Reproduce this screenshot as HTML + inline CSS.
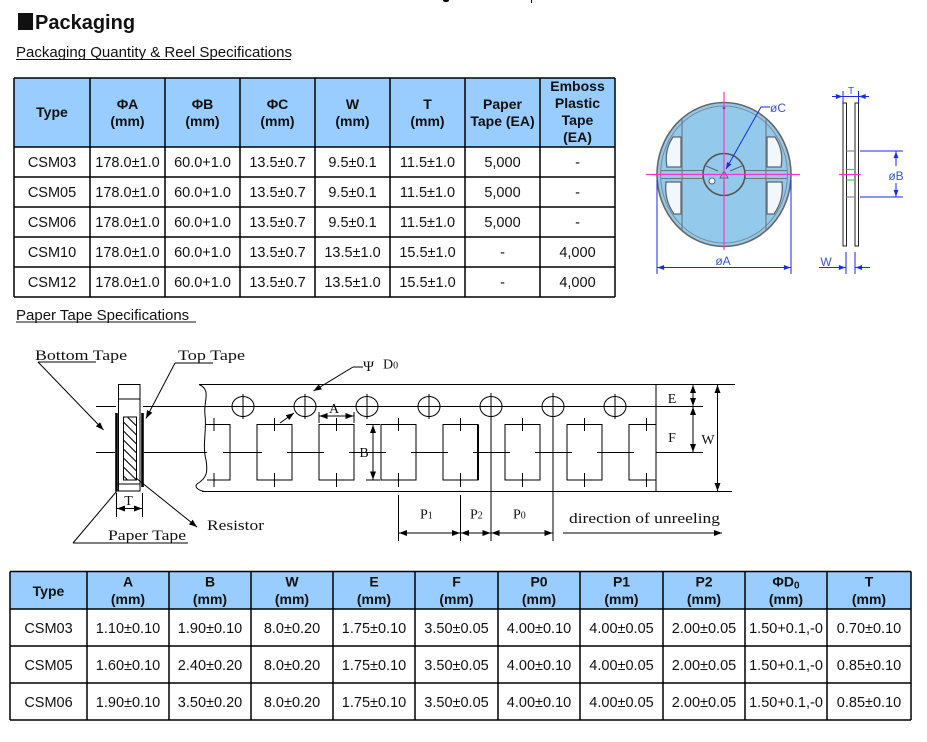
<!DOCTYPE html>
<html>
<head>
<meta charset="utf-8">
<style>
  html,body{margin:0;padding:0;background:#fff;}
  svg{display:block;}
  .s{font-family:"Liberation Sans",Arial,sans-serif;}
  .r{font-family:"Liberation Serif","Times New Roman",serif;}
</style>
</head>
<body>
<svg width="927" height="742" viewBox="0 0 927 742" xmlns="http://www.w3.org/2000/svg">
<defs>
  <marker id="a" viewBox="0 0 8 6" refX="8" refY="3" markerWidth="8" markerHeight="6" markerUnits="userSpaceOnUse" orient="auto-start-reverse">
    <path d="M0,0L8,3L0,6z" fill="#000"/>
  </marker>
  <marker id="b" viewBox="0 0 8 6" refX="8" refY="3" markerWidth="7" markerHeight="5" markerUnits="userSpaceOnUse" orient="auto-start-reverse">
    <path d="M0,0L8,3L0,6z" fill="#1a2ae6"/>
  </marker>
  <clipPath id="rc"><rect x="123.5" y="417" width="13" height="63"/></clipPath>
</defs>

<!-- top cut-off fragments -->
<ellipse cx="446" cy="0.5" rx="3" ry="1.6" fill="#000"/>
<line x1="531.5" y1="0" x2="531.5" y2="3" stroke="#000" stroke-width="1"/>

<!-- Title -->
<rect x="18" y="13" width="15" height="17" fill="#111"/>
<text class="s" x="35" y="29" font-size="20" font-weight="bold" fill="#111">Packaging</text>
<text class="s" x="16" y="57" font-size="15" fill="#111">Packaging Quantity &amp; Reel Specifications</text>
<line x1="16" y1="59.5" x2="291" y2="59.5" stroke="#111" stroke-width="1"/>

<!-- TABLE 1 -->
<rect x="14" y="78" width="601" height="69" fill="#99ccff"/>
<g stroke="#000" stroke-width="1.5">
  <line x1="14" y1="78" x2="615" y2="78"/>
  <line x1="14" y1="147" x2="615" y2="147"/>
  <line x1="14" y1="177" x2="615" y2="177"/>
  <line x1="14" y1="207" x2="615" y2="207"/>
  <line x1="14" y1="237" x2="615" y2="237"/>
  <line x1="14" y1="267" x2="615" y2="267"/>
  <line x1="14" y1="297" x2="615" y2="297"/>
  <line x1="14" y1="78" x2="14" y2="297"/>
  <line x1="90" y1="78" x2="90" y2="297"/>
  <line x1="165" y1="78" x2="165" y2="297"/>
  <line x1="240" y1="78" x2="240" y2="297"/>
  <line x1="315" y1="78" x2="315" y2="297"/>
  <line x1="390" y1="78" x2="390" y2="297"/>
  <line x1="465" y1="78" x2="465" y2="297"/>
  <line x1="540" y1="78" x2="540" y2="297"/>
  <line x1="615" y1="78" x2="615" y2="297"/>
</g>
<g class="s" font-size="14" font-weight="bold" fill="#111" text-anchor="middle">
  <text x="52" y="117">Type</text>
  <text x="127.5" y="109">ΦA</text><text x="127.5" y="126">(mm)</text>
  <text x="202.5" y="109">ΦB</text><text x="202.5" y="126">(mm)</text>
  <text x="277.5" y="109">ΦC</text><text x="277.5" y="126">(mm)</text>
  <text x="352.5" y="109">W</text><text x="352.5" y="126">(mm)</text>
  <text x="427.5" y="109">T</text><text x="427.5" y="126">(mm)</text>
  <text x="502.5" y="109">Paper</text><text x="502.5" y="126">Tape (EA)</text>
  <text x="577.5" y="91">Emboss</text><text x="577.5" y="108">Plastic</text>
  <text x="577.5" y="125">Tape</text><text x="577.5" y="142">(EA)</text>
</g>
<g class="s" font-size="14.5" fill="#111" text-anchor="middle">
  <text x="52" y="167">CSM03</text><text x="127.5" y="167">178.0±1.0</text><text x="202.5" y="167">60.0+1.0</text><text x="277.5" y="167">13.5±0.7</text><text x="352.5" y="167">9.5±0.1</text><text x="427.5" y="167">11.5±1.0</text><text x="502.5" y="167">5,000</text><text x="577.5" y="167">-</text>
  <text x="52" y="197">CSM05</text><text x="127.5" y="197">178.0±1.0</text><text x="202.5" y="197">60.0+1.0</text><text x="277.5" y="197">13.5±0.7</text><text x="352.5" y="197">9.5±0.1</text><text x="427.5" y="197">11.5±1.0</text><text x="502.5" y="197">5,000</text><text x="577.5" y="197">-</text>
  <text x="52" y="227">CSM06</text><text x="127.5" y="227">178.0±1.0</text><text x="202.5" y="227">60.0+1.0</text><text x="277.5" y="227">13.5±0.7</text><text x="352.5" y="227">9.5±0.1</text><text x="427.5" y="227">11.5±1.0</text><text x="502.5" y="227">5,000</text><text x="577.5" y="227">-</text>
  <text x="52" y="257">CSM10</text><text x="127.5" y="257">178.0±1.0</text><text x="202.5" y="257">60.0+1.0</text><text x="277.5" y="257">13.5±0.7</text><text x="352.5" y="257">13.5±1.0</text><text x="427.5" y="257">15.5±1.0</text><text x="502.5" y="257">-</text><text x="577.5" y="257">4,000</text>
  <text x="52" y="287">CSM12</text><text x="127.5" y="287">178.0±1.0</text><text x="202.5" y="287">60.0+1.0</text><text x="277.5" y="287">13.5±0.7</text><text x="352.5" y="287">13.5±1.0</text><text x="427.5" y="287">15.5±1.0</text><text x="502.5" y="287">-</text><text x="577.5" y="287">4,000</text>
</g>

<!-- Paper Tape Specifications heading -->
<text class="s" x="16" y="320" font-size="15" fill="#111">Paper Tape Specifications</text>
<line x1="16" y1="322" x2="196" y2="322" stroke="#111" stroke-width="1"/>

<!-- REEL FRONT VIEW -->
<g>
  <ellipse cx="724" cy="174.5" rx="67" ry="72" fill="#93c9ea" stroke="#666" stroke-width="1.6"/>
  <ellipse cx="724" cy="174.5" rx="63.5" ry="68.5" fill="none" stroke="#7a8a96" stroke-width="1"/>
  <g stroke="#6b7780" stroke-width="1.1" fill="none">
    <path d="M682,119 L682,231"/>
    <path d="M766,119 L766,231"/>
    <path d="M661,170.5 L787,170.5"/>
    <path d="M661,178.5 L787,178.5"/>
  </g>
  <g fill="#f2f7fb" stroke="#5c6670" stroke-width="1.3">
    <path d="M681,137 L681,167 L667,167 Q664,150 673,137 Z"/>
    <path d="M681,182 L681,214 L674,214 Q664,200 666,182 Z"/>
    <path d="M767,137 L767,167 L781,167 Q784,150 775,137 Z"/>
    <path d="M767,182 L767,214 L774,214 Q784,200 782,182 Z"/>
  </g>
  <circle cx="724" cy="174.5" r="21" fill="#93c9ea" stroke="#555" stroke-width="1.6"/>
  <g stroke="#5c6670" stroke-width="1.2">
    <line x1="718" y1="171" x2="706" y2="166"/>
    <line x1="730" y1="171" x2="742" y2="166"/>
    <line x1="724" y1="181" x2="724" y2="195"/>
  </g>
  <circle cx="712" cy="181" r="3" fill="#f2f7fb" stroke="#5c6670" stroke-width="1"/>
  <path d="M720,178 L728,178 L724,171 Z" fill="none" stroke="#5c6670" stroke-width="1"/>
  <circle cx="724" cy="108" r="1.3" fill="#333"/>
  <!-- magenta crosshair -->
  <line x1="646" y1="174.5" x2="800" y2="174.5" stroke="#ff33cc" stroke-width="1.2"/>
  <line x1="724" y1="92" x2="724" y2="250" stroke="#ff33cc" stroke-width="1.2"/>
  <!-- phi C leader -->
  <path d="M770,107 L761,107 L726,169" stroke="#1a2ae6" stroke-width="1" fill="none" marker-end="url(#b)"/>
  <text class="s" x="770" y="112" font-size="12" fill="#3a58c8">øC</text>
  <!-- phi A -->
  <g stroke="#1a2ae6" stroke-width="1">
    <line x1="657" y1="180" x2="657" y2="274"/>
    <line x1="791" y1="180" x2="791" y2="274"/>
    <line x1="657.5" y1="267.5" x2="790.5" y2="267.5" marker-start="url(#b)" marker-end="url(#b)"/>
  </g>
  <text class="s" x="723" y="265" font-size="12" fill="#3a58c8" text-anchor="middle">øA</text>
</g>

<!-- REEL SIDE VIEW -->
<g>
  <rect x="843" y="103" width="3.5" height="143" fill="#fff" stroke="#222" stroke-width="1"/>
  <rect x="855" y="103" width="3.5" height="143" fill="#fff" stroke="#222" stroke-width="1"/>
  <line x1="846.5" y1="151" x2="855" y2="151" stroke="#888" stroke-width="1.2"/>
  <line x1="846.5" y1="197" x2="855" y2="197" stroke="#888" stroke-width="1.2"/>
  <line x1="846.5" y1="169.5" x2="855" y2="169.5" stroke="#33dd33" stroke-width="1.2"/>
  <line x1="846.5" y1="180" x2="855" y2="180" stroke="#33dd33" stroke-width="1.2"/>
  <line x1="839" y1="174.5" x2="861" y2="174.5" stroke="#ff33cc" stroke-width="1.2"/>
  <!-- T -->
  <g stroke="#1a2ae6" stroke-width="1">
    <line x1="843" y1="91" x2="843" y2="103"/>
    <line x1="858.5" y1="91" x2="858.5" y2="103"/>
    <line x1="832" y1="96.5" x2="842.5" y2="96.5" marker-end="url(#b)"/>
    <line x1="869" y1="96.5" x2="859" y2="96.5" marker-end="url(#b)"/>
    <line x1="843" y1="96.5" x2="858.5" y2="96.5"/>
  </g>
  <text class="s" x="851" y="94" font-size="10" fill="#3a58c8" text-anchor="middle">T</text>
  <!-- phi B -->
  <g stroke="#1a2ae6" stroke-width="1">
    <line x1="860" y1="151" x2="903" y2="151"/>
    <line x1="860" y1="197" x2="903" y2="197"/>
    <line x1="896" y1="166" x2="896" y2="151.5" marker-end="url(#b)"/>
    <line x1="896" y1="183" x2="896" y2="196.5" marker-end="url(#b)"/>
  </g>
  <text class="s" x="896" y="180" font-size="12" fill="#3a58c8" text-anchor="middle">øB</text>
  <!-- W -->
  <g stroke="#1a2ae6" stroke-width="1">
    <line x1="846" y1="252" x2="846" y2="274"/>
    <line x1="855" y1="252" x2="855" y2="274"/>
    <line x1="819" y1="267.5" x2="845.5" y2="267.5" marker-end="url(#b)"/>
    <line x1="870" y1="267.5" x2="855.5" y2="267.5" marker-end="url(#b)"/>
  </g>
  <text class="s" x="826" y="266" font-size="12" fill="#3a58c8" text-anchor="middle">W</text>
</g>

<!-- PAPER TAPE DRAWING -->
<g stroke="#000" stroke-width="1" fill="none">
  <!-- cross-section -->
  <rect x="118.5" y="384.5" width="21.5" height="106.5"/>
  <line x1="118.5" y1="399" x2="140" y2="399"/>
  <line x1="118.5" y1="484" x2="140" y2="484"/>
  <line x1="116.5" y1="413" x2="116.5" y2="491.5" stroke-width="2.6"/>
  <line x1="142.5" y1="413" x2="142.5" y2="487" stroke-width="2.6"/>
  <rect x="123.5" y="417" width="13" height="63" fill="#fff"/>
  <g clip-path="url(#rc)">
    <line x1="123.5" y1="404" x2="136.5" y2="417"/>
    <line x1="123.5" y1="413" x2="136.5" y2="426"/>
    <line x1="123.5" y1="422" x2="136.5" y2="435"/>
    <line x1="123.5" y1="431" x2="136.5" y2="444"/>
    <line x1="123.5" y1="440" x2="136.5" y2="453"/>
    <line x1="123.5" y1="449" x2="136.5" y2="462"/>
    <line x1="123.5" y1="458" x2="136.5" y2="471"/>
    <line x1="123.5" y1="467" x2="136.5" y2="480"/>
    <line x1="123.5" y1="476" x2="136.5" y2="489"/>
  </g>
  <!-- horizontal reference lines -->
  <line x1="96" y1="406.5" x2="116" y2="406.5"/>
  <line x1="143" y1="406.5" x2="703" y2="406.5"/>
  <line x1="96" y1="452.5" x2="115" y2="452.5"/>
  <line x1="144" y1="452.5" x2="207" y2="452.5"/>
  <line x1="223" y1="452.5" x2="262" y2="452.5"/>
  <line x1="287" y1="452.5" x2="324" y2="452.5"/>
  <line x1="349" y1="452.5" x2="386" y2="452.5"/>
  <line x1="411" y1="452.5" x2="448" y2="452.5"/>
  <line x1="473" y1="452.5" x2="510" y2="452.5"/>
  <line x1="535" y1="452.5" x2="572" y2="452.5"/>
  <line x1="597" y1="452.5" x2="634" y2="452.5"/>
  <line x1="656" y1="452.5" x2="703" y2="452.5"/>
  <!-- T dimension -->
  <line x1="116.5" y1="493" x2="116.5" y2="517"/>
  <line x1="142.5" y1="493" x2="142.5" y2="517"/>
  <line x1="117" y1="508.5" x2="142" y2="508.5" marker-start="url(#a)" marker-end="url(#a)"/>

  <!-- tape body -->
  <path d="M199,384.5 L735,384.5"/>
  <path d="M202,491.5 L732,491.5"/>
  <line x1="656" y1="384.5" x2="656" y2="491.5"/>
  <path d="M199,384.5 C212,390 203,402 205,415 C207,430 202,445 206,460 C208,472 207,478 197,484 C194,487 198,490 204,491.5"/>

  <!-- partial pocket -->
  <path d="M205,424.5 L230,424.5 L230,480 L207,480"/>
  <line x1="214" y1="418" x2="214" y2="431"/>
  <line x1="214" y1="473" x2="214" y2="487"/>
  <!-- pockets -->
  <rect x="257" y="424.5" width="35" height="55.5"/>
  <rect x="319" y="424.5" width="35" height="55.5"/>
  <rect x="381" y="424.5" width="35" height="55.5"/>
  <rect x="443" y="424.5" width="35" height="55.5"/>
  <line x1="478" y1="424.5" x2="478" y2="480" stroke-width="2"/>
  <rect x="505" y="424.5" width="35" height="55.5"/>
  <rect x="567" y="424.5" width="35" height="55.5"/>
  <path d="M656,424.5 L629,424.5 L629,480 L656,480"/>
  <!-- pocket ticks -->
  <line x1="274.5" y1="418" x2="274.5" y2="431"/><line x1="274.5" y1="473" x2="274.5" y2="487"/>
  <line x1="336.5" y1="418" x2="336.5" y2="431"/><line x1="336.5" y1="473" x2="336.5" y2="487"/>
  <line x1="398.5" y1="418" x2="398.5" y2="431"/><line x1="398.5" y1="473" x2="398.5" y2="487"/>
  <line x1="460.5" y1="418" x2="460.5" y2="431"/><line x1="460.5" y1="473" x2="460.5" y2="487"/>
  <line x1="522.5" y1="418" x2="522.5" y2="431"/><line x1="522.5" y1="473" x2="522.5" y2="487"/>
  <line x1="584.5" y1="418" x2="584.5" y2="431"/><line x1="584.5" y1="473" x2="584.5" y2="487"/>
  <line x1="646.5" y1="418" x2="646.5" y2="431"/><line x1="646.5" y1="473" x2="646.5" y2="487"/>

  <!-- sprocket holes -->
  <ellipse cx="243" cy="406.5" rx="11" ry="10"/><line x1="243" y1="394" x2="243" y2="419"/>
  <ellipse cx="305" cy="406.5" rx="11" ry="10"/><line x1="305" y1="394" x2="305" y2="419"/>
  <ellipse cx="367" cy="406.5" rx="11" ry="10"/><line x1="367" y1="394" x2="367" y2="419"/>
  <ellipse cx="429" cy="406.5" rx="11" ry="10"/><line x1="429" y1="394" x2="429" y2="419"/>
  <ellipse cx="491" cy="406.5" rx="11" ry="10"/>
  <ellipse cx="553" cy="406.5" rx="11" ry="10"/>
  <ellipse cx="615" cy="406.5" rx="11" ry="10"/><line x1="615" y1="394" x2="615" y2="419"/>

  <!-- P dimension lines -->
  <line x1="398.5" y1="495" x2="398.5" y2="541"/>
  <line x1="460.5" y1="495" x2="460.5" y2="541"/>
  <line x1="491" y1="393" x2="491" y2="541"/>
  <line x1="553" y1="393" x2="553" y2="541"/>
  <line x1="399" y1="533" x2="460" y2="533" marker-start="url(#a)" marker-end="url(#a)"/>
  <line x1="461" y1="533" x2="490.5" y2="533" marker-start="url(#a)" marker-end="url(#a)"/>
  <line x1="491.5" y1="533" x2="552.5" y2="533" marker-start="url(#a)" marker-end="url(#a)"/>
  <line x1="563" y1="533" x2="722" y2="533" marker-end="url(#a)"/>

  <!-- E F W dims -->
  <line x1="693" y1="385" x2="693" y2="406" marker-start="url(#a)" marker-end="url(#a)"/>
  <line x1="693" y1="407" x2="693" y2="452" marker-start="url(#a)" marker-end="url(#a)"/>
  <line x1="717.5" y1="385" x2="717.5" y2="491" marker-start="url(#a)" marker-end="url(#a)"/>

  <!-- A dim -->
  <line x1="319" y1="412" x2="319" y2="423"/>
  <line x1="354" y1="412" x2="354" y2="423"/>
  <line x1="319.5" y1="416" x2="353.5" y2="416" marker-start="url(#a)" marker-end="url(#a)"/>
  <!-- B dim -->
  <line x1="366" y1="424.5" x2="380" y2="424.5"/>
  <line x1="366" y1="480" x2="380" y2="480"/>
  <line x1="373" y1="425" x2="373" y2="479.5" marker-start="url(#a)" marker-end="url(#a)"/>

  <!-- leaders -->
  <line x1="38" y1="362" x2="96" y2="362"/>
  <line x1="38" y1="362" x2="103.5" y2="430" marker-end="url(#a)"/>
  <line x1="175" y1="363" x2="213" y2="363"/>
  <line x1="175" y1="363" x2="146" y2="418.5" marker-end="url(#a)"/>
  <line x1="73" y1="543" x2="116.5" y2="491.5"/>
  <line x1="73" y1="543" x2="188" y2="543"/>
  <line x1="136" y1="478" x2="197" y2="527" marker-end="url(#a)"/>
  <line x1="363" y1="367" x2="353" y2="367"/>
  <line x1="353" y1="367" x2="313.5" y2="391" marker-end="url(#a)"/>
  <line x1="280" y1="423" x2="294" y2="413" marker-end="url(#a)"/>
</g>

<!-- drawing labels -->
<g class="r" fill="#111">
  <text x="35" y="360" font-size="15" textLength="92" lengthAdjust="spacingAndGlyphs">Bottom Tape</text>
  <text x="178" y="360" font-size="15" textLength="67" lengthAdjust="spacingAndGlyphs">Top Tape</text>
  <text x="363" y="371" font-size="15">Ψ</text>
  <text x="383" y="368.5" font-size="14">D<tspan font-size="10">0</tspan></text>
  <text x="207" y="530" font-size="15" textLength="57" lengthAdjust="spacingAndGlyphs">Resistor</text>
  <text x="108" y="540" font-size="15" textLength="78" lengthAdjust="spacingAndGlyphs">Paper Tape</text>
  <text x="128.5" y="505" font-size="14" text-anchor="middle">T</text>
  <text x="334" y="413" font-size="14" text-anchor="middle">A</text>
  <text x="364" y="457" font-size="14" text-anchor="middle">B</text>
  <text x="672" y="403" font-size="14" text-anchor="middle">E</text>
  <text x="672" y="442" font-size="14" text-anchor="middle">F</text>
  <text x="708" y="444" font-size="14" text-anchor="middle">W</text>
  <text x="420" y="518.5" font-size="14">P<tspan font-size="10">1</tspan></text>
  <text x="470" y="518.5" font-size="14">P<tspan font-size="10">2</tspan></text>
  <text x="513" y="518.5" font-size="14">P<tspan font-size="10">0</tspan></text>
  <text x="569" y="523" font-size="15" textLength="151" lengthAdjust="spacingAndGlyphs">direction of unreeling</text>
</g>

<!-- TABLE 2 -->
<rect x="10" y="571.5" width="901" height="37.5" fill="#99ccff"/>
<g stroke="#000" stroke-width="1.5">
  <line x1="10" y1="571.5" x2="911" y2="571.5"/>
  <line x1="10" y1="609" x2="911" y2="609"/>
  <line x1="10" y1="646" x2="911" y2="646"/>
  <line x1="10" y1="683" x2="911" y2="683"/>
  <line x1="10" y1="720" x2="911" y2="720"/>
  <line x1="10" y1="571.5" x2="10" y2="720"/>
  <line x1="87" y1="571.5" x2="87" y2="720"/>
  <line x1="169" y1="571.5" x2="169" y2="720"/>
  <line x1="251" y1="571.5" x2="251" y2="720"/>
  <line x1="333" y1="571.5" x2="333" y2="720"/>
  <line x1="415" y1="571.5" x2="415" y2="720"/>
  <line x1="498" y1="571.5" x2="498" y2="720"/>
  <line x1="580" y1="571.5" x2="580" y2="720"/>
  <line x1="663" y1="571.5" x2="663" y2="720"/>
  <line x1="745" y1="571.5" x2="745" y2="720"/>
  <line x1="827" y1="571.5" x2="827" y2="720"/>
  <line x1="911" y1="571.5" x2="911" y2="720"/>
</g>
<g class="s" font-size="14" font-weight="bold" fill="#111" text-anchor="middle">
  <text x="48.5" y="596">Type</text>
  <text x="128" y="586.5">A</text><text x="128" y="604">(mm)</text>
  <text x="210" y="586.5">B</text><text x="210" y="604">(mm)</text>
  <text x="292" y="586.5">W</text><text x="292" y="604">(mm)</text>
  <text x="374" y="586.5">E</text><text x="374" y="604">(mm)</text>
  <text x="456.5" y="586.5">F</text><text x="456.5" y="604">(mm)</text>
  <text x="539" y="586.5">P0</text><text x="539" y="604">(mm)</text>
  <text x="621.5" y="586.5">P1</text><text x="621.5" y="604">(mm)</text>
  <text x="704" y="586.5">P2</text><text x="704" y="604">(mm)</text>
  <text x="786" y="586.5">ΦD<tspan font-size="10" dy="2">0</tspan></text><text x="786" y="604">(mm)</text>
  <text x="869" y="586.5">T</text><text x="869" y="604">(mm)</text>
</g>
<g class="s" font-size="14.5" fill="#111" text-anchor="middle">
  <text x="48.5" y="633">CSM03</text><text x="128" y="633">1.10±0.10</text><text x="210" y="633">1.90±0.10</text><text x="292" y="633">8.0±0.20</text><text x="374" y="633">1.75±0.10</text><text x="456.5" y="633">3.50±0.05</text><text x="539" y="633">4.00±0.10</text><text x="621.5" y="633">4.00±0.05</text><text x="704" y="633">2.00±0.05</text><text x="786" y="633">1.50+0.1,-0</text><text x="869" y="633">0.70±0.10</text>
  <text x="48.5" y="670">CSM05</text><text x="128" y="670">1.60±0.10</text><text x="210" y="670">2.40±0.20</text><text x="292" y="670">8.0±0.20</text><text x="374" y="670">1.75±0.10</text><text x="456.5" y="670">3.50±0.05</text><text x="539" y="670">4.00±0.10</text><text x="621.5" y="670">4.00±0.05</text><text x="704" y="670">2.00±0.05</text><text x="786" y="670">1.50+0.1,-0</text><text x="869" y="670">0.85±0.10</text>
  <text x="48.5" y="707">CSM06</text><text x="128" y="707">1.90±0.10</text><text x="210" y="707">3.50±0.20</text><text x="292" y="707">8.0±0.20</text><text x="374" y="707">1.75±0.10</text><text x="456.5" y="707">3.50±0.05</text><text x="539" y="707">4.00±0.10</text><text x="621.5" y="707">4.00±0.05</text><text x="704" y="707">2.00±0.05</text><text x="786" y="707">1.50+0.1,-0</text><text x="869" y="707">0.85±0.10</text>
</g>
</svg>
</body>
</html>
